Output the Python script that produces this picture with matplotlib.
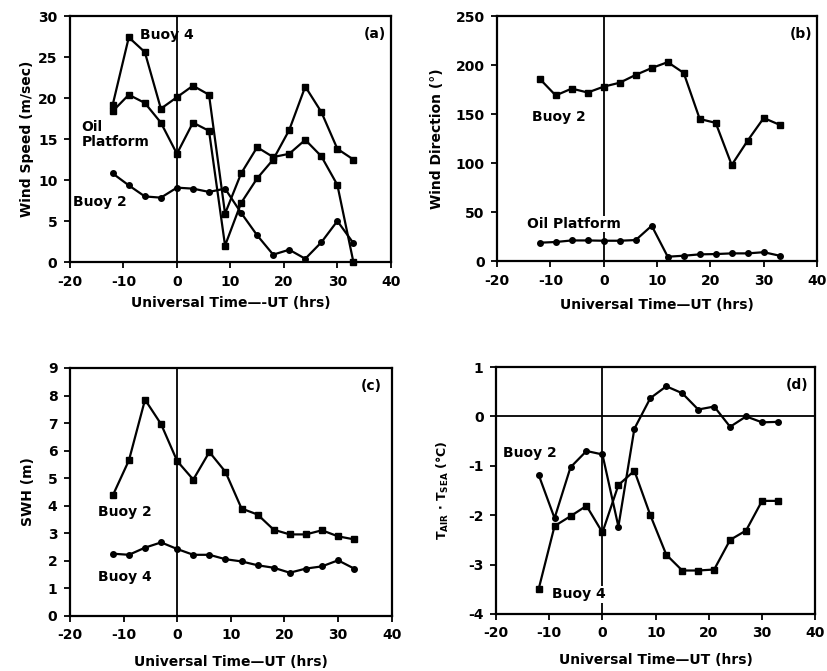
"""Four-panel buoy / oil platform time series (wind speed, direction, SWH, T_air - T_sea)."""

import matplotlib
matplotlib.use("Agg")
import matplotlib.pyplot as plt

plt.rcParams["font.family"] = ["DejaVu Sans"]
plt.rcParams["font.weight"] = "bold"
plt.rcParams["axes.unicode_minus"] = False

# ── Data ──────────────────────────────────────────────────────────────────────
hours = [-12, -9, -6, -3, 0, 3, 6, 9, 12, 15, 18, 21, 24, 27, 30, 33]

# (a) wind speed, m/sec
speed_buoy4 = [19.2, 27.4, 25.6, 18.7, 20.1, 21.5, 20.4, 5.9, 10.8, 14.0, 12.8, 13.2, 14.9, 12.9, 9.4, 0.0]
speed_oil = [18.4, 20.4, 19.4, 17.0, 13.2, 17.0, 16.0, 2.0, 7.2, 10.2, 12.5, 16.1, 21.4, 18.3, 13.8, 12.5]
speed_buoy2 = [10.8, 9.35, 8.0, 7.85, 9.07, 8.95, 8.55, 8.95, 6.0, 3.26, 0.9, 1.5, 0.4, 2.4, 5.0, 2.3]

# (b) wind direction, degrees
dir_buoy2 = [186, 169, 176, 172, 178, 182, 190, 197, 203, 192, 145, 141, 98, 123, 146, 139]
dir_oil = [18.7, 19.4, 21.0, 21.0, 20.7, 20.7, 21.4, 36, 4.4, 5.4, 6.8, 7.1, 7.8, 7.8, 9.0, 5.4]

# (c) significant wave height, m
swh_buoy2 = [4.38, 5.65, 7.85, 6.96, 5.62, 4.95, 5.95, 5.23, 3.9, 3.68, 3.13, 2.96, 2.96, 3.11, 2.89, 2.78]
swh_buoy4 = [2.26, 2.22, 2.48, 2.67, 2.43, 2.22, 2.22, 2.06, 1.98, 1.84, 1.75, 1.57, 1.72, 1.8, 2.02, 1.72]

# (d) air - sea temperature, deg C
dt_buoy2 = [-1.18, -2.06, -1.03, -0.70, -0.77, -2.23, -0.25, 0.37, 0.61, 0.47, 0.14, 0.2, -0.21, 0.0, -0.12, -0.11]
dt_buoy4 = [-3.5, -2.22, -2.02, -1.81, -2.35, -1.39, -1.1, -2.0, -2.8, -3.12, -3.12, -3.1, -2.5, -2.31, -1.71, -1.71]

XLABEL = "Universal Time\u2014UT (hrs)"
DT_LABEL = r"$\mathbf{T_{AIR}}$ $\cdot$ $\mathbf{T_{SEA}}$ " + "(\u00b0C)"
LINE_KW = dict(color="black", linewidth=1.6, clip_on=False, zorder=3)
SQ = dict(marker="s", markersize=4.6)
CI = dict(marker="o", markersize=4.0)
FS = 10


def style_axes(ax, ylim, yticks, ylabel, ylab_x, xlabel=XLABEL, xlab_y=-0.175):
    ax.set_xlim(-20, 40)
    ax.set_xticks(range(-20, 41, 10))
    ax.set_ylim(*ylim)
    ax.set_yticks(yticks)
    ax.tick_params(direction="out", length=4, width=1.3, pad=5, labelsize=FS)
    for sp in ax.spines.values():
        sp.set_linewidth(1.6)
    ax.axvline(0, color="black", linewidth=1.3, zorder=1)
    ax.set_xlabel(xlabel, fontsize=FS, fontweight="bold")
    ax.xaxis.set_label_coords(0.5, xlab_y)
    ax.xaxis.label.set_va("center")
    ax.set_ylabel(ylabel, fontsize=FS, fontweight="bold")
    ax.yaxis.set_label_coords(ylab_x, 0.5)
    ax.yaxis.label.set_va("center")


fig = plt.figure(figsize=(8.27, 6.71), dpi=100)
ax_a = fig.add_axes([0.0846, 0.6095, 0.388, 0.3666])
ax_b = fig.add_axes([0.601, 0.611, 0.387, 0.365])
ax_c = fig.add_axes([0.0846, 0.082, 0.389, 0.3696])
ax_d = fig.add_axes([0.5998, 0.085, 0.386, 0.368])

# ── (a) ──
ax_a.plot(hours, speed_buoy4, **SQ, **LINE_KW)
ax_a.plot(hours, speed_oil, **SQ, **LINE_KW)
ax_a.plot(hours, speed_buoy2, **CI, **LINE_KW)
style_axes(ax_a, (0, 30), range(0, 31, 5), "Wind Speed (m/sec)", -0.134,
           xlabel="Universal Time\u2014-UT (hrs)", xlab_y=-0.167)
ax_a.text(-6.9, 27.7, "Buoy 4", fontsize=FS, va="center")
ax_a.text(-17.8, 15.6, "Oil\nPlatform", fontsize=FS, va="center", linespacing=1.1)
ax_a.text(-19.4, 7.3, "Buoy 2", fontsize=FS, va="center")
ax_a.text(0.985, 0.955, "(a)", transform=ax_a.transAxes, fontsize=FS, ha="right", va="top")

# ── (b) ──
ax_b.plot(hours, dir_buoy2, **SQ, **LINE_KW)
ax_b.plot(hours, dir_oil, **CI, **LINE_KW)
style_axes(ax_b, (0, 250), range(0, 251, 50), "Wind Direction (\u00b0)", -0.1875, xlab_y=-0.18)
ax_b.text(-13.4, 147, "Buoy 2", fontsize=FS, va="center")
ax_b.text(-14.4, 37.8, "Oil Platform", fontsize=FS, va="center", zorder=2,
          bbox=dict(facecolor="white", edgecolor="none", pad=1))
ax_b.text(0.985, 0.955, "(b)", transform=ax_b.transAxes, fontsize=FS, ha="right", va="top")

# ── (c) ──
ax_c.plot(hours, swh_buoy2, **SQ, **LINE_KW)
ax_c.plot(hours, swh_buoy4, **CI, **LINE_KW)
style_axes(ax_c, (0, 9), range(0, 10), "SWH (m)", -0.13, xlab_y=-0.185)
ax_c.text(-14.8, 3.77, "Buoy 2", fontsize=FS, va="center")
ax_c.text(-14.8, 1.41, "Buoy 4", fontsize=FS, va="center")
ax_c.text(0.97, 0.927, "(c)", transform=ax_c.transAxes, fontsize=FS, ha="right", va="center")

# ── (d) ──
ax_d.axhline(0, color="black", linewidth=1.3, zorder=1)
ax_d.plot(hours, dt_buoy2, **CI, **LINE_KW)
ax_d.plot(hours, dt_buoy4, **SQ, **LINE_KW)
style_axes(ax_d, (-4, 1), range(-4, 2), DT_LABEL, -0.166, xlab_y=-0.186)
ax_d.yaxis.label.set_fontsize(9)
ax_d.text(-18.7, -0.74, "Buoy 2", fontsize=FS, va="center")
ax_d.text(-9.5, -3.6, "Buoy 4", fontsize=FS, va="center", zorder=2,
          bbox=dict(facecolor="white", edgecolor="none", pad=1))
ax_d.text(0.98, 0.927, "(d)", transform=ax_d.transAxes, fontsize=FS, ha="right", va="center")

fig.savefig("out.png", dpi=100)
plt.close(fig)
